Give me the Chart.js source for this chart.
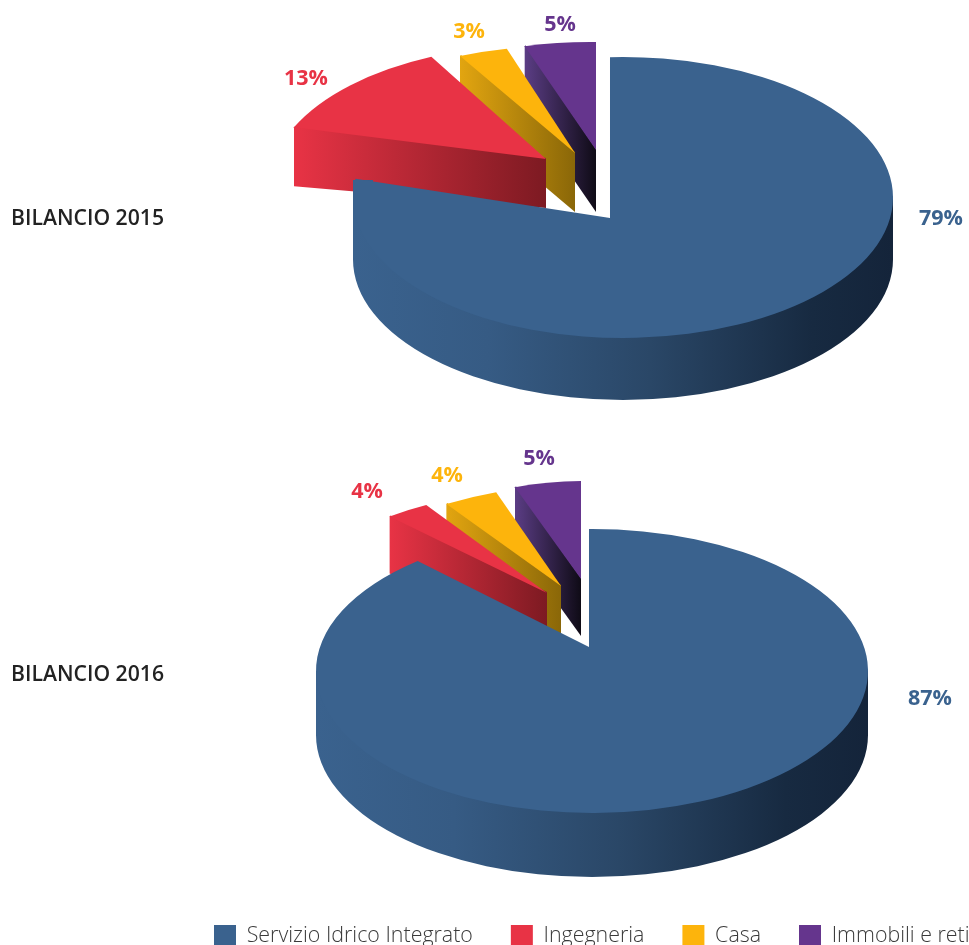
<!DOCTYPE html>
<html><head><meta charset="utf-8">
<script src="https://cdn.jsdelivr.net/npm/chart.js@4/dist/chart.umd.min.js"></script>
<style>
html,body{margin:0;padding:0;background:#fff;width:969px;height:945px;overflow:hidden}
canvas{position:absolute;left:0;top:0}
</style></head><body>
<canvas id="c2015" width="969" height="945"></canvas>
<canvas id="c2016" width="1030" height="957"></canvas>
<script>
const categories = ['Servizio Idrico Integrato','Ingegneria','Casa','Immobili e reti'];
const values2015 = [79,13,3,5];
const values2016 = [87,4,4,5];
const colors = ['#3a628e','#e83345','#fdb40c','#65358d'];

// presentation: one entry per slice — apex, foreshortening of each edge, top ellipse, extrusion at apex (d) and outer corner (ds)
const wallStops = [
  [[0,'#3a628e'],[.25,'#365b84'],[.55,'#2a4767'],[.85,'#172a41'],[1,'#14243a']],
  [[0,'#e83345'],[1,'#7d1a22']],
  [[0,'#e2a510'],[1,'#8a6708']],
  [[0,'#5b3d85'],[1,'#0f0b16']]
];
const geom2015 = [
  {ax:610,ay:218,kys:.6,kye:.6,cx:623,cy:197.5,rx:270,ry:140.5,d:62,wallTop:180},
  {ax:546,ay:159,kys:.49,kye:.49,cx:540,cy:185,rx:270,ry:140,d:49,ds:59},
  {ax:575,ay:153,kys:.464,kye:.497,cx:560,cy:186,rx:270,ry:140,d:59,ds:59},
  {ax:596,ay:150,kys:.473,kye:.473,cx:590,cy:182,rx:270,ry:140,d:62,ds:62}
];
const geom2016 = [
  {ax:589,ay:647,kys:.535,kye:.535,cx:592,cy:671,rx:276,ry:142,d:64},
  {ax:547,ay:593,kys:.518,kye:.462,cx:550,cy:632,rx:276,ry:142,d:57,ds:57},
  {ax:561,ay:586,kys:.454,kye:.47,cx:586,cy:626.5,rx:276,ry:142,d:57,ds:57},
  {ax:581,ay:579,kys:.452,kye:.452,cx:585,cy:623,rx:240,ry:142,d:57,ds:57}
];
const labelPos2015 = [[941,219],[306,79],[469,32],[560,25]];
const labelPos2016 = [[930,699],[367,492],[447,476],[539,459]];

function rayHit(g,th,ky){
  const dx=Math.cos(th), dy=ky*Math.sin(th);
  const ox=(g.ax-g.cx)/g.rx, oy=(g.ay-g.cy)/g.ry, ux=dx/g.rx, uy=dy/g.ry;
  const a=ux*ux+uy*uy, b=2*(ox*ux+oy*uy), c=ox*ox+oy*oy-1;
  const t=(-b+Math.sqrt(b*b-4*a*c))/(2*a);
  const x=g.ax+t*dx, y=g.ay+t*dy;
  return {x,y,t:Math.atan2((y-g.cy)/g.ry,(x-g.cx)/g.rx)};
}
function gradient(ctx,x0,x1,stops){
  const gr=ctx.createLinearGradient(x0,0,x1,0);
  stops.forEach(s=>gr.addColorStop(s[0],s[1]));
  return gr;
}
function pie3d(title,titleY,geom,labelPos,vals){
  return {
    id:'pie3d',
    beforeDatasetDraw(chart){
      const ctx=chart.ctx, arcs=chart.getDatasetMeta(0).data;
      ctx.save();
      for(let i=arcs.length-1;i>=0;i--){
        const g=geom[i], arc=arcs[i];
        const s=rayHit(g,arc.startAngle,g.kys), e=rayHit(g,arc.endAngle,g.kye);
        if(i===0){
          ctx.fillStyle=gradient(ctx,g.cx-g.rx,g.cx+g.rx,wallStops[0]);
          ctx.beginPath();
          ctx.ellipse(g.cx,g.cy+g.d,g.rx,g.ry,0,0,Math.PI);
          ctx.lineTo(g.cx-g.rx,g.wallTop||g.cy);
          ctx.lineTo(g.cx-g.rx+20,g.wallTop||g.cy);
          ctx.lineTo(g.cx-g.rx+20,g.cy);
          ctx.ellipse(g.cx,g.cy-2,g.rx-1,g.ry,0,Math.PI,0,true);
          ctx.lineTo(g.cx+g.rx,g.cy);
          ctx.closePath();ctx.fill();
        }else{
          ctx.fillStyle=gradient(ctx,s.x,g.ax,wallStops[i]);
          ctx.beginPath();
          ctx.moveTo(s.x+1,s.y-1);ctx.lineTo(g.ax,g.ay-1);
          ctx.lineTo(g.ax,g.ay+g.d);ctx.lineTo(s.x,s.y+g.ds);ctx.lineTo(s.x,s.y);
          ctx.closePath();ctx.fill();
        }
        ctx.fillStyle=colors[i];
        ctx.beginPath();
        ctx.moveTo(g.ax,g.ay);
        ctx.ellipse(g.cx,g.cy,g.rx,g.ry,0,s.t,e.t,false);
        ctx.closePath();ctx.fill();
      }
      ctx.restore();
      return false;
    },
    afterDraw(chart){
      const ctx=chart.ctx;
      ctx.save();
      ctx.textBaseline='middle';
      ctx.textAlign='center';
      ctx.font='700 21.5px "Open Sans"';
      vals.forEach((v,i)=>{
        ctx.fillStyle=colors[i];
        ctx.fillText(v+'%',labelPos[i][0],labelPos[i][1]);
      });
      ctx.textAlign='left';
      ctx.fillStyle='#222222';
      ctx.font='600 21.2px "Open Sans"';
      ctx.fillText(title,11,titleY);
      ctx.restore();
    }
  };
}
function make(id,vals,title,titleY,geom,labelPos,legend){
  return new Chart(document.getElementById(id),{
    type:'pie',
    data:{labels:categories,datasets:[{data:vals,backgroundColor:colors,borderWidth:0}]},
    options:{
      responsive:false,animation:false,
      layout:{padding:{left:legend?176:0}},
      plugins:{
        tooltip:{enabled:false},
        legend:{display:legend,position:'bottom',align:'start',
          labels:{boxWidth:22,boxHeight:22,padding:38,color:'#3a3a3a',
            font:{family:'"Open Sans"',size:21.4,weight:'300'}}}
      }
    },
    plugins:[pie3d(title,titleY,geom,labelPos,vals)]
  });
}
make('c2015',values2015,'BILANCIO 2015',219,geom2015,labelPos2015,false);
make('c2016',values2016,'BILANCIO 2016',675,geom2016,labelPos2016,true);
</script>
</body></html>
